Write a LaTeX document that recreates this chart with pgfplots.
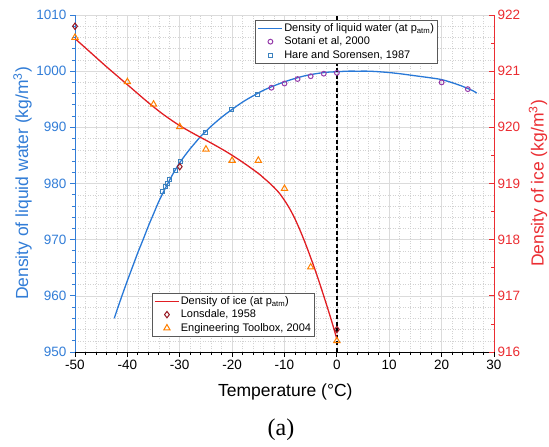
\documentclass[border=0pt]{standalone}
\usepackage{pgfplots}
\pgfplotsset{compat=1.18}
\usepackage{fontspec}
\setmainfont{Liberation Sans}
\newfontfamily\seriffont{Liberation Serif}
\definecolor{wblue}{RGB}{40,120,215}
\definecolor{axblue}{RGB}{50,125,215}
\definecolor{icered}{RGB}{225,30,35}
\definecolor{axred}{RGB}{235,45,50}
\definecolor{sotani}{RGB}{150,60,170}
\definecolor{hare}{RGB}{60,130,190}
\definecolor{lons}{RGB}{150,20,30}
\definecolor{engt}{RGB}{255,128,0}
\begin{document}
\begin{tikzpicture}
\useasboundingbox (0,0) rectangle (549pt,447pt);
\pgfplotsset{
  legend image code/.code={\draw[mark repeat=2,mark phase=2,#1] plot coordinates {(0pt,0pt) (12pt,0pt) (24pt,0pt)};},
  myaxis/.style={
    at={(75pt,95pt)}, anchor=south west, scale only axis,
    width=419pt, height=337pt,
    xmin=-50, xmax=30,
    /pgf/number format/assume math mode=true,
    /pgf/number format/1000 sep={},
    tick label style={font=\fontsize{13.5}{16}\selectfont},
    label style={font=\fontsize{17.5}{20}\selectfont},
    axis line style={-},
    major tick length=5pt, minor tick length=3pt,
    legend cell align=left,
    legend style={fill=white, draw=none, font=\fontsize{11}{13}\selectfont,
      inner sep=2pt, row sep=1.6pt, nodes={inner sep=1.2pt}},
  }
}
\begin{axis}[myaxis,
  ymin=950, ymax=1010,
  axis x line*=bottom, axis y line*=left,
  xtick={-50,-40,...,30}, ytick={950,960,...,1010},
  minor x tick num=4, minor y tick num=4,
  grid=both,
  major grid style={gray!28, line width=0.5pt},
  minor grid style={gray!35, dash pattern=on 1pt off 1.5pt, line width=0.45pt},
  tick align=outside,
  x axis line style={black, line width=0.8pt},
  y axis line style={axblue, line width=0.8pt},
  xtick style={black, line width=0.8pt},
  ytick style={axblue, line width=0.8pt},
  yticklabel style={text=axblue},
  xlabel={Temperature (°C)},
  ylabel={Density of liquid water (kg/m\textsuperscript{3})},
  xlabel style={at={(axis description cs:0.502,-0.119)}, anchor=center},
  ylabel style={at={(axis description cs:-0.125,0.5)}, anchor=center, text=axblue},
  legend style={at={(0.431,0.985)}, anchor=north west, name=legW},
]
\addplot[draw=wblue, line width=1.3pt, smooth,
  legend image code/.code={\draw[draw=wblue, line width=1.3pt] (0pt,0pt) -- (24pt,0pt);}] coordinates {
(-42.5,956.0) (-42,957.4) (-41,960.1) (-40,962.7) (-39,965.2) (-38,967.7) (-37,970.0)
(-36,972.4) (-35,974.6) (-34,976.8) (-33,978.7) (-32,980.5) (-31,982.2) (-30,983.7)
(-29,985.0) (-28,986.2) (-27,987.3) (-26,988.4) (-25,989.3) (-24,990.2) (-22,991.8)
(-20,993.2) (-18,994.5) (-16,995.6) (-14,996.6) (-12,997.4) (-10,998.1) (-8,998.7)
(-6,999.2) (-4,999.55) (-2,999.8) (0,999.9) (2,1000.0) (4,1000.0) (6,1000.0)
(8,999.9) (10,999.75) (12,999.55) (14,999.3) (16,999.05) (18,998.8) (20,998.5)
(22,997.95) (24,997.3) (26,996.5) (26.7,996.1)
};
\addlegendentry{Density of liquid water (at p\textsubscript{atm})}
\addplot[only marks, mark=o, mark size=2.4pt, mark options={draw=sotani, line width=1pt}] coordinates {
(-12.5,997.05) (-10,997.8) (-7.5,998.6) (-5,999.1) (-2.5,999.55) (0,999.7) (20,998.0) (25,996.8)
};
\addlegendentry{Sotani et al, 2000}
\addplot[only marks, mark=square, mark size=2pt, mark options={draw=hare, line width=0.9pt}] coordinates {
(-33.3,978.6) (-32.8,979.4) (-32.4,980.0) (-31.9,980.8) (-30.9,982.3) (-29.8,984.0)
(-25.1,989.0) (-20.2,993.1) (-15.2,995.9)
};
\addlegendentry{Hare and Sorensen, 1987}
\addplot[black, line width=1.3pt, dash pattern=on 4pt off 2.5pt, forget plot] coordinates {(0,950) (0,1010)};
\end{axis}
\begin{axis}[myaxis,
  ymin=916, ymax=922,
  axis x line=none, axis y line*=right,
  ytick={916,917,...,922}, minor y tick num=1,
  tick align=inside,
  y axis line style={axred, line width=0.8pt},
  ytick style={axred, line width=0.8pt},
  yticklabel style={text=axred},
  ylabel={Density of ice (kg/m\textsuperscript{3})},
  ylabel style={at={(axis description cs:1.105,0.5)}, anchor=center, text=axred},
  legend style={at={(0.184,0.175)}, anchor=north west, name=legI},
]
\addplot[draw=icered, line width=1.3pt, smooth,
  legend image code/.code={\draw[draw=icered, line width=1.3pt] (0pt,0pt) -- (24pt,0pt);}] coordinates {
(-50,921.58) (-47,921.33) (-44,921.08) (-40,920.76) (-36,920.44) (-33,920.22)
(-30,920.03) (-27,919.87) (-24,919.72) (-21,919.56) (-18,919.38) (-15,919.18)
(-14,919.10) (-13,919.02) (-12,918.93) (-11,918.83) (-10,918.70) (-9,918.55)
(-8,918.37) (-7,918.16) (-6,917.93) (-5,917.68) (-4,917.42) (-3,917.14)
(-2,916.85) (-1,916.55) (0,916.23)
};
\addlegendentry{Density of ice (at p\textsubscript{atm})}
\addplot[only marks, mark=diamond, mark size=3.2pt, mark options={draw=lons, line width=1pt}] coordinates {
(-50,921.80) (-30,919.30) (0,916.40)
};
\addlegendentry{Lonsdale, 1958}
\addplot[only marks, mark=triangle, mark size=3.6pt, mark options={draw=engt, line width=1pt}] coordinates {
(-50,921.60) (-40,920.81) (-35,920.41) (-30,920.01) (-25,919.61) (-20,919.41)
(-15,919.41) (-10,918.91) (-5,917.51) (0,916.20)
};
\addlegendentry{Engineering Toolbox, 2004}
\end{axis}
\draw[black!65, line width=0.6pt] (legW.south west) rectangle (legW.north east);
\draw[black!65, line width=0.6pt] (legI.south west) rectangle (legI.north east);
\node[font=\seriffont\fontsize{24}{26}\selectfont] at (281pt,17pt) {(a)};
\end{tikzpicture}
\end{document}
